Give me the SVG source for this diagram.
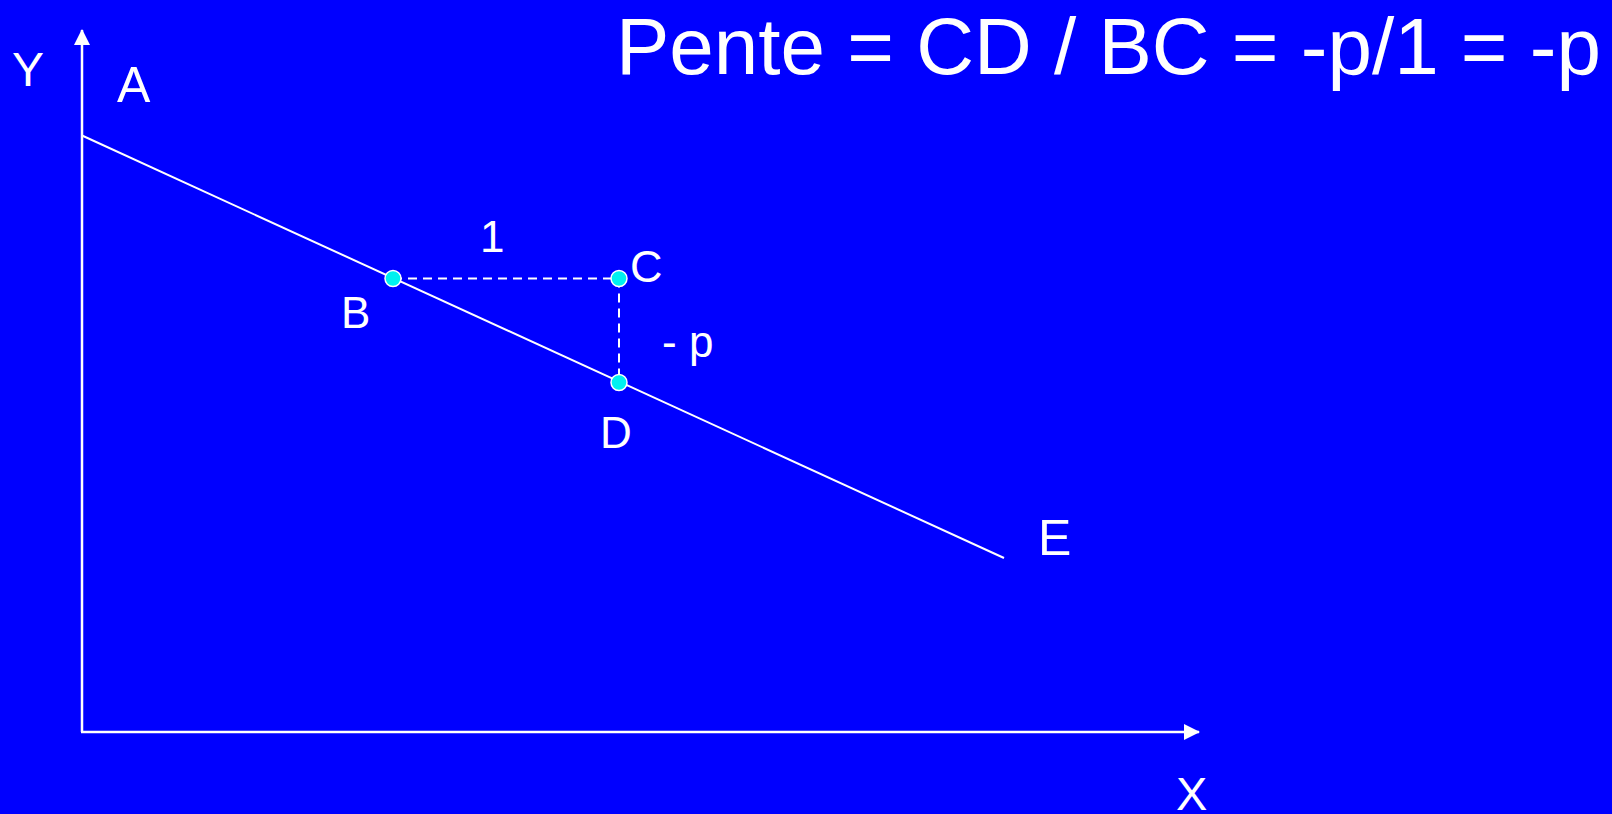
<svg xmlns="http://www.w3.org/2000/svg" width="1612" height="814" viewBox="0 0 1612 814">
<style>
.lbl{font-family:"Liberation Sans",Arial,sans-serif;fill:#fff}
.ax{stroke:#fff;stroke-width:2.5;fill:none}
.ln{stroke:#fff;stroke-width:2;fill:none}
.dash{stroke:#fff;stroke-width:2;stroke-dasharray:9 6;fill:none}
.pt{fill:#00F0F0;stroke:#fff;stroke-width:1.5}
</style>
<defs>
<marker id="arr" viewBox="0 0 16 16" refX="15" refY="8" markerWidth="16" markerHeight="16" markerUnits="userSpaceOnUse" orient="auto">
<path d="M0,0 L16,8 L0,16 Z" fill="#fff"/>
</marker>
</defs>
<rect x="0" y="0" width="1612" height="814" fill="#0000FF"/>
<g id="connectors">
<line class="ax" x1="82" y1="732" x2="82" y2="30" marker-end="url(#arr)"/>
<line class="ax" x1="81" y1="732" x2="1199" y2="732" marker-end="url(#arr)"/>
<line class="ln" x1="82" y1="135.5" x2="1004" y2="558"/>
<line class="dash" x1="393" y1="278.5" x2="619" y2="278.5"/>
<line class="dash" x1="619" y1="278.5" x2="619" y2="382.5"/>
</g>
<g id="node-B"><circle class="pt" cx="393" cy="278.5" r="8"/><text class="lbl" x="341" y="328" font-size="44">B</text></g>
<g id="node-C"><circle class="pt" cx="619" cy="278.5" r="8"/><text class="lbl" x="630" y="282" font-size="45">C</text></g>
<g id="node-D"><circle class="pt" cx="619" cy="382.5" r="8"/><text class="lbl" x="600" y="448" font-size="44">D</text></g>
<g id="labels">
<text class="lbl" x="12" y="86" font-size="48">Y</text>
<text class="lbl" x="117" y="102" font-size="50">A</text>
<text class="lbl" x="480" y="252" font-size="44">1</text>
<text class="lbl" x="662" y="357" font-size="44">- p</text>
<text class="lbl" x="1038" y="555" font-size="50">E</text>
<text class="lbl" x="1176" y="810" font-size="47">X</text>
<text class="lbl" x="616" y="74" font-size="80">Pente = CD / BC = -p/1 = -p</text>
</g>
</svg>
